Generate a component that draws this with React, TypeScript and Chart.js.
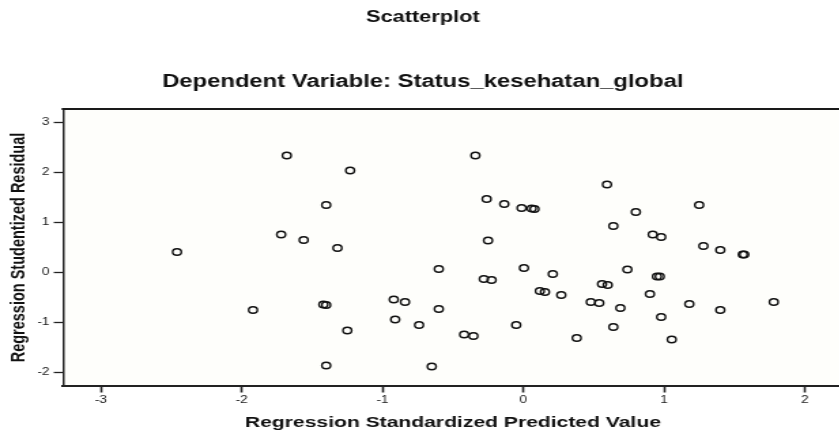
import React, { useEffect, useRef } from "react";
import { Chart, registerables } from "chart.js";

Chart.register(...registerables);

const chartTitle = "Scatterplot";
const chartSubtitle = "Dependent Variable: Status_kesehatan_global";
const xAxisTitle = "Regression Standardized Predicted Value";
const yAxisTitle = "Regression Studentized Residual";

const predictedValues = [
  -1.68, -1.72, -2.46, -1.92, -1.23, -1.4, -1.56, -1.32, -1.42, -1.4, -1.25, -1.4,
  -0.34, -0.26, -0.135, -0.012, 0.06, 0.08, -0.25, -0.6, -0.28, -0.225, 0.005, 0.21,
  0.118, 0.154, 0.27, -0.92, -0.84, -0.6, -0.91, -0.74, -0.42, -0.354, -0.05, -0.65,
  0.595, 0.8, 0.64, 0.92, 0.98, 1.25, 1.28, 1.4, 1.56, 1.57, 0.74, 0.56, 0.6, 0.95,
  0.97, 0.48, 0.54, 0.9, 0.69, 1.18, 1.4, 1.78, 0.98, 0.64, 0.38, 1.055,
];
const studentizedResiduals = [
  2.34, 0.76, 0.41, -0.75, 2.04, 1.35, 0.65, 0.49, -0.64, -0.65, -1.16, -1.86,
  2.34, 1.47, 1.37, 1.29, 1.28, 1.27, 0.64, 0.07, -0.13, -0.15, 0.09, -0.03,
  -0.37, -0.39, -0.45, -0.54, -0.59, -0.73, -0.94, -1.05, -1.24, -1.27, -1.05, -1.88,
  1.76, 1.21, 0.93, 0.76, 0.71, 1.35, 0.53, 0.45, 0.36, 0.36, 0.06, -0.23, -0.25, -0.08,
  -0.08, -0.59, -0.61, -0.43, -0.71, -0.63, -0.75, -0.59, -0.89, -1.09, -1.31, -1.34,
];
const xTickValues = [-3, -2, -1, 0, 1, 2];
const yTickValues = [-2, -1, 0, 1, 2, 3];

const STRETCH = 1.36;
const CANVAS_W = 624;
const CANVAS_H = 435;
const FONT = "'Liberation Sans', Arial, sans-serif";

export default function App() {
  const ref = useRef<HTMLCanvasElement | null>(null);

  useEffect(() => {
    const canvas = ref.current;
    if (!canvas) return;
    const points = predictedValues.map((x, i) => ({ x, y: studentizedResiduals[i] }));

    const framePlugin = {
      id: "frame",
      beforeDatasetsDraw(chart: any) {
        const { ctx, chartArea } = chart;
        ctx.save();
        ctx.strokeStyle = "#1a1a1a";
        ctx.lineWidth = 2;
        ctx.beginPath();
        ctx.moveTo(chartArea.left - 1, chartArea.top);
        ctx.lineTo(chartArea.right + 5, chartArea.top);
        ctx.stroke();
        ctx.restore();
      },
      beforeDraw(chart: any) {
        const { ctx, chartArea } = chart;
        ctx.save();
        ctx.fillStyle = "#ffffff";
        ctx.fillRect(0, 0, chart.width, chart.height);
        ctx.fillStyle = "#fefefb";
        ctx.fillRect(chartArea.left, chartArea.top, chartArea.right - chartArea.left, chartArea.bottom - chartArea.top);
        ctx.restore();
      },
    };

    const chart = new Chart(canvas, {
      type: "scatter",
      data: {
        datasets: [
          {
            data: points,
            pointStyle: "circle",
            pointRadius: 3.2,
            pointHoverRadius: 3.2,
            pointBorderWidth: 1.4,
            pointBorderColor: "#111111",
            pointBackgroundColor: "rgba(0,0,0,0)",
          },
        ],
      },
      options: {
        responsive: false,
        animation: false,
        layout: { padding: { left: 0, right: 2.5, top: 0, bottom: 0 } },
        plugins: {
          legend: { display: false },
          tooltip: { enabled: false },
          title: {
            display: true,
            text: chartTitle,
            color: "#111",
            font: { family: FONT, size: 16, weight: "bold", lineHeight: 1.2 },
            padding: { top: 7.9, bottom: 44.4 },
          },
          subtitle: {
            display: true,
            text: chartSubtitle,
            color: "#111",
            font: { family: FONT, size: 17.5, weight: "bold", lineHeight: 1.2 },
            padding: { top: 0, bottom: 16.5 },
          },
        },
        scales: {
          x: {
            type: "linear",
            min: -3.27,
            max: 2.27,
            afterBuildTicks: (scale: any) => {
              scale.ticks = xTickValues.map((v) => ({ value: v }));
            },
            afterFit: (scale: any) => {
              scale.height = 49;
            },
            grid: {
              display: true,
              drawOnChartArea: false,
              drawTicks: true,
              tickLength: 6.5,
              tickWidth: 1.6,
              tickColor: "#222",
            },
            border: { display: true, color: "#222", width: 2 },
            ticks: {
              color: "#222",
              padding: 2,
              maxRotation: 0,
              autoSkip: false,
              font: { family: FONT, size: 10 },
              callback: (v: any) => String(v),
            },
            title: {
              display: true,
              text: xAxisTitle,
              color: "#111",
              font: { family: FONT, size: 15.5, weight: "bold", lineHeight: 1.2 },
              padding: { top: 0, bottom: 2.7 },
            },
          },
          y: {
            type: "linear",
            min: -2.27,
            max: 3.27,
            afterBuildTicks: (scale: any) => {
              scale.ticks = yTickValues.map((v) => ({ value: v }));
            },
            afterFit: (scale: any) => {
              scale.width = 46.3;
            },
            grid: {
              display: true,
              drawOnChartArea: false,
              drawTicks: true,
              tickLength: 6.8,
              tickWidth: 1.3,
              tickColor: "#222",
            },
            border: { display: true, color: "#222", width: 1.5 },
            ticks: {
              color: "#222",
              padding: 3.2,
              autoSkip: false,
              font: { family: FONT, size: 10 },
              callback: (v: any) => String(v),
            },
            title: {
              display: true,
              text: yAxisTitle,
              color: "#111",
              font: { family: FONT, size: 14.5, weight: "bold", lineHeight: 1.2 },
              padding: { top: 5, bottom: 0 },
            },
          },
        },
      },
      plugins: [framePlugin],
    });

    return () => {
      chart.destroy();
    };
  }, []);

  return (
    <div
      style={{
        position: "absolute",
        left: 0,
        top: 0,
        width: "839px",
        height: "435px",
        overflow: "hidden",
        background: "#ffffff",
      }}
    >
      <canvas
        ref={ref}
        width={CANVAS_W}
        height={CANVAS_H}
        style={{ width: `${CANVAS_W * STRETCH}px`, height: `${CANVAS_H}px`, display: "block" }}
      />
    </div>
  );
}
